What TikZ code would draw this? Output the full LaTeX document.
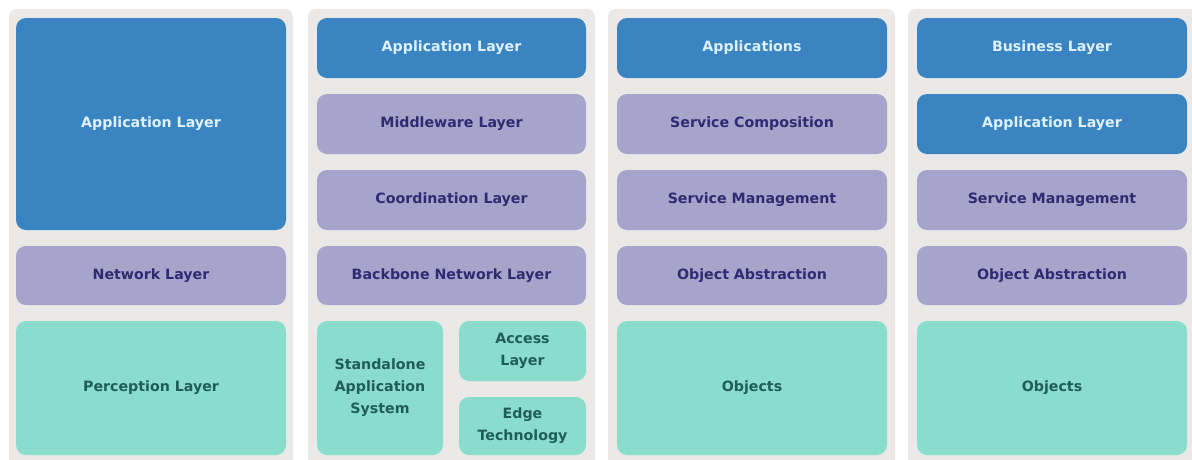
\documentclass[tikz,border=0pt]{standalone}
\usepackage{fontspec}
\setmainfont{DejaVu Sans}
\definecolor{panelgrey}{HTML}{EAE9E8}
\definecolor{boxblue}{HTML}{3A84C2}
\definecolor{boxpurple}{HTML}{A6A4CA}
\definecolor{boxteal}{HTML}{8ADDCC}
\definecolor{txtblue}{HTML}{DDF1FF}
\definecolor{txtpurple}{HTML}{2E2B72}
\definecolor{txtteal}{HTML}{1F5D58}
\tikzset{
  panel/.style={fill=panelgrey, draw=none, rounded corners=8pt},
  layerbox/.style={draw=none, rounded corners=10pt, inner sep=2pt, align=center,
    font=\fontsize{14.2}{22}\selectfont\bfseries},
  bluebox/.style={layerbox, fill=boxblue, text=txtblue},
  purplebox/.style={layerbox, fill=boxpurple, text=txtpurple},
  tealbox/.style={layerbox, fill=boxteal, text=txtteal},
}
\begin{document}
\begin{tikzpicture}[x=1pt,y=-1pt]
\useasboundingbox[fill=white] (0,0) rectangle (1192,459);
% panels
\fill[panel] (9,9) rectangle (293,470);
\fill[panel] (308,9) rectangle (595,470);
\fill[panel] (608,9) rectangle (895,470);
\fill[panel] (908,9) rectangle (1200,470);
% column 1
\node[bluebox, minimum width=270pt, minimum height=212pt] (c1app) at (151,124) {Application Layer};
\node[purplebox, minimum width=270pt, minimum height=59pt] (c1net) at (151,275.5) {Network Layer};
\node[tealbox, minimum width=270pt, minimum height=134pt] (c1per) at (151,388) {Perception Layer};
% column 2
\node[bluebox, minimum width=269pt, minimum height=60pt] (c2app) at (451.5,48) {Application Layer};
\node[purplebox, minimum width=269pt, minimum height=60pt] (c2mid) at (451.5,124) {Middleware Layer};
\node[purplebox, minimum width=269pt, minimum height=60pt] (c2coord) at (451.5,200) {Coordination Layer};
\node[purplebox, minimum width=269pt, minimum height=59pt] (c2back) at (451.5,275.5) {Backbone Network Layer};
\node[tealbox, minimum width=126pt, minimum height=134pt] (c2stand) at (380,388) {Standalone\\Application\\System};
\node[tealbox, minimum width=127pt, minimum height=60pt] (c2acc) at (522.5,351) {Access\\Layer};
\node[tealbox, minimum width=127pt, minimum height=58pt] (c2edge) at (522.5,426) {Edge\\Technology};
% column 3
\node[bluebox, minimum width=270pt, minimum height=60pt] (c3app) at (752,48) {Applications};
\node[purplebox, minimum width=270pt, minimum height=60pt] (c3comp) at (752,124) {Service Composition};
\node[purplebox, minimum width=270pt, minimum height=60pt] (c3man) at (752,200) {Service Management};
\node[purplebox, minimum width=270pt, minimum height=59pt] (c3obj) at (752,275.5) {Object Abstraction};
\node[tealbox, minimum width=270pt, minimum height=134pt] (c3objs) at (752,388) {Objects};
% column 4
\node[bluebox, minimum width=270pt, minimum height=60pt] (c4bus) at (1052,48) {Business Layer};
\node[bluebox, minimum width=270pt, minimum height=60pt] (c4app) at (1052,124) {Application Layer};
\node[purplebox, minimum width=270pt, minimum height=60pt] (c4man) at (1052,200) {Service Management};
\node[purplebox, minimum width=270pt, minimum height=59pt] (c4obj) at (1052,275.5) {Object Abstraction};
\node[tealbox, minimum width=270pt, minimum height=134pt] (c4objs) at (1052,388) {Objects};
\end{tikzpicture}
\end{document}
